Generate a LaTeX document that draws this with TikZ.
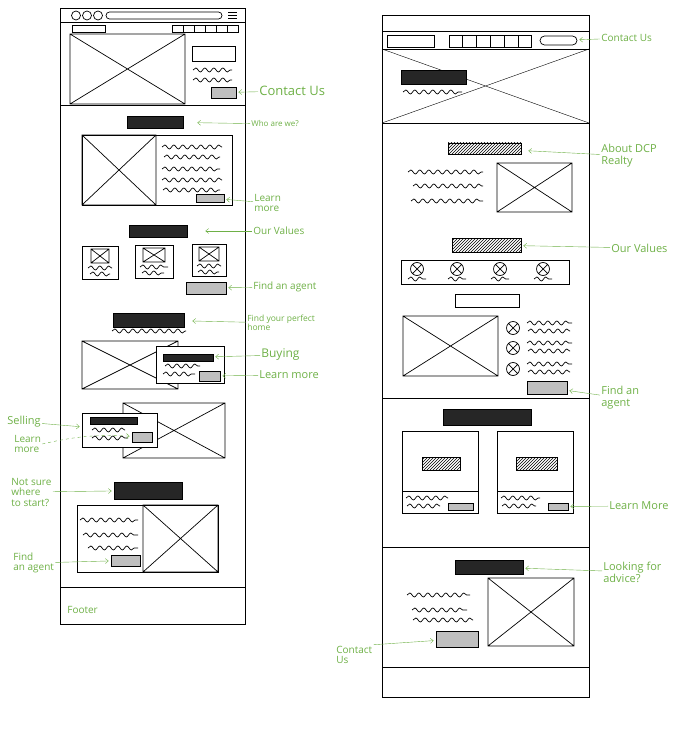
\documentclass[tikz,border=0pt]{standalone}
\usepackage{fontspec}
\setmainfont{Open Sans}
\usepackage{tikz}
\usetikzlibrary{positioning, arrows.meta, fit, patterns, decorations.pathmorphing}
\usepackage{xcolor}
\definecolor{notegreen}{RGB}{110,176,70}

\tikzset{
  frame/.style={draw, line width=1pt},
  head/.style={draw, fill=black!85, inner sep=0pt},
  hatch/.style={draw, pattern=north east lines, inner sep=0pt},
  btn/.style={draw, thick, fill=black!25, inner sep=0pt},
  card/.style={draw, fill=white, inner sep=0pt},
  wave/.style={decorate, decoration={snake, amplitude=2pt, segment length=9pt}},
  note/.style={text=notegreen, font=\fontsize{10}{10.5}\selectfont, align=left, inner sep=1pt},
  arr/.style={notegreen, thin, -{Straight Barb[length=3pt, width=5pt]}, shorten >=2pt},
}
\newcommand{\ximage}[4]{\draw (#1,#2) rectangle (#3,#4) (#1,#2) -- (#3,#4) (#1,#4) -- (#3,#2);}
\newcommand{\squig}[3]{\draw[wave] (#1,#3) -- (#2,#3);}
\newcommand{\xicon}[2]{\draw (#1,#2) circle (6.5) (#1-4.6,#2-4.6) -- (#1+4.6,#2+4.6) (#1-4.6,#2+4.6) -- (#1+4.6,#2-4.6);}

\begin{document}
\begin{tikzpicture}[x=1pt, y=-1pt, line width=0.7pt]
\useasboundingbox (0,0) rectangle (682,738);

% Left page
\draw[frame] (60,9) rectangle (245,624);
\draw (60,22) -- (245,22);
\foreach \cx in {76,87,98} \draw (\cx,15.5) circle (4.5);
\draw[rounded corners=3.5] (106,12) rectangle (222,19);
\foreach \hy in {12.5,15.5,18.5} \draw (228,\hy) -- (237,\hy);
\draw (72,25) rectangle (105,32);
\foreach \nx in {172,183,194,205,216,227} \draw (\nx,25) rectangle ++(11,7);

% hero
\ximage{70}{34}{185}{104}
\draw (60,105) -- (245,105);
\draw (192,46) rectangle (235,61);
\squig{193}{232}{70}
\squig{193}{232}{80}
\node[btn, fit={(211,87)(236,98)}] (lcontact) {};
\node[note, font=\fontsize{13}{14}\selectfont, anchor=west] (lcontactN) at (258,91) {Contact Us};
\draw[arr] (lcontactN) -- (lcontact);

% who are we
\node[head, fit={(127,116)(183,128)}] (lwho) {};
\node[note, font=\fontsize{8}{9}\selectfont, anchor=west] (lwhoN) at (250,124) {Who are we?};
\draw[arr, shorten >=14pt] (lwhoN) -- (lwho);
\draw (82,135) rectangle (232,205);
\ximage{82}{135}{156}{205}
\squig{162}{222}{147}
\squig{164}{220}{157}
\squig{162}{220}{169}
\squig{162}{222}{180}
\squig{163}{220}{190}
\node[btn, fit={(196,194)(224,202)}] (lmore1) {};
\node[note, anchor=west] (lmore1N) at (253,203) {Learn\\more};
\draw[arr] (lmore1N) -- (lmore1);

% our values
\node[head, fit={(129,225)(187,237)}] (lvalues) {};
\node[note, anchor=west] (lvaluesN) at (252,231) {Our Values};
\draw[arr, shorten >=18pt] (lvaluesN) -- (lvalues);
\draw (82,246) rectangle (118,279);
\ximage{91}{249}{109}{263}
\squig{88}{112}{268}
\squig{90}{110}{274}
\draw (135,245) rectangle (173,278);
\ximage{143}{248}{165}{262}
\squig{140}{168}{267}
\squig{142}{164}{273}
\draw (192,244) rectangle (226,276);
\ximage{199}{247}{219}{261}
\squig{197}{221}{266}
\squig{198}{219}{272}
\node[btn, fit={(186,282)(226,294)}] (lagent1) {};
\node[note, anchor=west] (lagent1N) at (252,287) {Find an agent};
\draw[arr] (lagent1N) -- (lagent1);

% find your perfect home
\node[head, fit={(113,313)(184,327)}] (lhome) {};
\squig{112}{186}{331}
\node[note, font=\fontsize{8.5}{9}\selectfont, anchor=west] (lhomeN) at (246,323) {Find your perfect\\home};
\draw[arr, shorten >=8pt] (lhomeN) -- (lhome);
\ximage{82}{341}{178}{389}
\node[card, fit={(156,346)(224,383)}] (lbuycard) {};
\node[head, fit={(163,354)(213,361)}] (lbuy) {};
\squig{165}{200}{366}
\squig{163}{195}{374}
\node[btn, fit={(199,371)(220,381)}] (lmore2) {};
\node[note, font=\fontsize{12}{13}\selectfont, anchor=west] (lbuyN) at (260,355) {Buying};
\node[note, font=\fontsize{11}{12}\selectfont, anchor=west] (lmore2N) at (258,375) {Learn more};
\draw[arr] (lbuyN) -- (lbuy);
\draw[arr] (lmore2N) -- (lmore2);

% selling
\ximage{123}{403}{225}{458}
\node[card, fit={(82,413)(157,447)}] (lsell) {};
\node[head, fit={(90,417)(137,424)}] (lsellbar) {};
\squig{92}{125}{430}
\squig{92}{128}{438}
\node[btn, fit={(132,432)(152,442)}] (lmore3) {};
\node[note, font=\fontsize{11}{12}\selectfont, anchor=west] (lsellN) at (6,422) {Selling};
\node[note, anchor=west] (lmore3N) at (13,444) {Learn\\more};
\draw[arr] (lsellN) -- (lsell);
\draw[arr, dashed] (lmore3N.east) to[bend left=8] (lmore3);

% not sure where to start
\node[head, fit={(114,482)(182,499)}] (lstart) {};
\node[note, anchor=west] (lstartN) at (10,492) {Not sure\\where\\to start?};
\draw[arr] (lstartN) -- (lstart);
\draw (77,505) rectangle (218,572);
\ximage{143}{505}{218}{572}
\squig{80}{138}{520}
\squig{83}{138}{535}
\squig{88}{138}{548}
\node[btn, fit={(111,555)(140,566)}] (lagent2) {};
\node[note, anchor=west] (lagent2N) at (12,563) {Find\\an agent};
\draw[arr] (lagent2N) -- (lagent2);

% footer
\draw (60,587) -- (245,587);
\node[note, anchor=west] (lfooter) at (66,610) {Footer};

% Right page
\draw[frame] (382,16) rectangle (589,697);
\draw (382,31) -- (589,31);
\draw (387,35) rectangle (434,47);
\foreach \i in {0,...,5} \draw (449+\i*13.8,35) rectangle ++(13.8,12);
\node[draw, rounded corners=4.5, inner sep=0pt, fit={(540,36)(577,45)}] (rcontact) {};
\node[note, anchor=west] (rcontactN) at (600,38) {Contact Us};
\draw[arr] (rcontactN) -- (rcontact);
\draw (382,49) -- (589,49);

% hero
\draw[thin] (382,49) -- (589,123) (382,123) -- (589,49);
\node[head, fit={(401,70)(466,84)}] (rhero) {};
\squig{403}{462}{92}
\draw (382,123) -- (589,123);

% about
\node[hatch, fit={(448,143)(521,154)}] (rabout) {};
\node[note, font=\fontsize{11}{12}\selectfont, anchor=west] (raboutN) at (600,156) {About DCP\\Realty};
\draw[arr, shorten >=7pt] (raboutN) -- (rabout);
\squig{408}{483}{172}
\squig{413}{483}{186}
\squig{411}{483}{201}
\ximage{497}{163}{572}{212}

% values
\node[hatch, fit={(452,238)(521,252)}] (rvalues) {};
\node[note, font=\fontsize{11}{12}\selectfont, anchor=west] (rvaluesN) at (610,248) {Our Values};
\draw[arr] (rvaluesN) -- (rvalues);
\draw (401,260) rectangle (569,284);
\foreach \ix in {417,457,500,543} {
  \xicon{\ix}{269}
  \squig{\ix-9}{\ix+9}{279}
}
\draw (455,294) rectangle (519,307);
\ximage{403}{316}{498}{376}
\foreach \iy in {328,348,369} {
  \xicon{513}{\iy}
  \squig{527}{572}{\iy-5}
  \squig{528}{570}{\iy+3}
}
\node[btn, fit={(527,381)(567,394)}] (ragent) {};
\node[note, font=\fontsize{11}{12}\selectfont, anchor=west] (ragentN) at (600,398) {Find an\\agent};
\draw[arr] (ragentN) -- (ragent);
\draw (382,398) -- (589,398);

% cards
\node[head, fit={(443,409)(531,425)}] (rcards) {};
\draw (402,431) rectangle (478,513) (402,491) -- (478,491);
\node[hatch, fit={(422,457)(460,470)}] (rcard1) {};
\squig{406}{448}{498}
\squig{407}{440}{506}
\node[btn, fit={(448,503)(473,510)}] (rmore1) {};
\draw (497,431) rectangle (573,513) (497,491) -- (573,491);
\node[hatch, fit={(516,457)(557,470)}] (rcard2) {};
\squig{501}{540}{498}
\squig{502}{536}{506}
\node[btn, fit={(548,503)(568,510)}] (rmore2) {};
\node[note, font=\fontsize{11}{12}\selectfont, anchor=west] (rmoreN) at (608,506) {Learn More};
\draw[arr] (rmoreN) -- (rmore2);
\draw (382,547) -- (589,547);

% advice
\node[head, fit={(455,560)(523,574)}] (radvice) {};
\node[note, font=\fontsize{11}{12}\selectfont, anchor=west] (radviceN) at (602,572) {Looking for\\advice?};
\draw[arr] (radviceN) -- (radvice);
\ximage{488}{578}{574}{646}
\squig{407}{470}{595}
\squig{412}{467}{610}
\squig{413}{473}{620}
\node[btn, fit={(436,631)(478,647)}] (rcontact2) {};
\node[note, anchor=west] (rcontact2N) at (335,655) {Contact\\Us};
\draw[arr] (rcontact2N.north east) -- (rcontact2);
\draw (382,667) -- (589,667);
\end{tikzpicture}
\end{document}
